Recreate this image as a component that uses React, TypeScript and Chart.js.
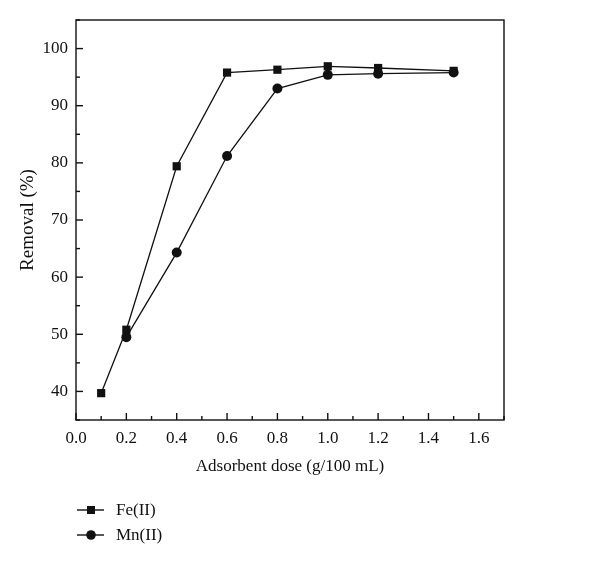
import React, { useEffect, useRef } from 'react';
import { Chart, registerables } from 'chart.js';

Chart.register(...registerables);

const feDose = [0.1, 0.2, 0.4, 0.6, 0.8, 1.0, 1.2, 1.5];
const feRemoval = [39.7, 50.8, 79.4, 95.8, 96.3, 96.9, 96.6, 96.1];
const mnDose = [0.2, 0.4, 0.6, 0.8, 1.0, 1.2, 1.5];
const mnRemoval = [49.5, 64.3, 81.2, 93.0, 95.4, 95.6, 95.8];
const seriesLabels = ['Fe(II)', 'Mn(II)'];
const seriesMarkers = ['rect', 'circle'];
const xTitle = 'Adsorbent dose (g/100 mL)';
const yTitle = 'Removal (%)';

const FONT = "'Liberation Serif', 'Times New Roman', serif";
const INK = '#111111';

function drawMarker(ctx: CanvasRenderingContext2D, style: string, x: number, y: number) {
  ctx.beginPath();
  if (style === 'rect') {
    ctx.rect(x - 4, y - 4, 8, 8);
  } else {
    ctx.arc(x, y, 4.8, 0, Math.PI * 2);
  }
  ctx.fillStyle = INK;
  ctx.fill();
}

const framePlugin = {
  id: 'frameTicksLegend',
  afterDraw(chart: any) {
    const ctx: CanvasRenderingContext2D = chart.ctx;
    const { left, right, top, bottom } = chart.chartArea;
    ctx.save();
    ctx.strokeStyle = INK;
    ctx.lineWidth = 1.4;
    ctx.strokeRect(left, top, right - left, bottom - top);

    const xs = chart.scales.x;
    xs.ticks.forEach((t: any) => {
      const px = xs.getPixelForValue(t.value);
      const major = Math.round(t.value * 10) % 2 === 0;
      const len = major ? 7 : 4;
      ctx.beginPath();
      ctx.moveTo(px, bottom);
      ctx.lineTo(px, bottom - len);
      ctx.stroke();
    });
    const ys = chart.scales.y;
    ys.ticks.forEach((t: any) => {
      const py = ys.getPixelForValue(t.value);
      const major = Math.round(t.value) % 10 === 0;
      const len = major ? 7 : 4;
      ctx.beginPath();
      ctx.moveTo(left, py);
      ctx.lineTo(left + len, py);
      ctx.stroke();
    });

    ctx.font = `17px ${FONT}`;
    ctx.textBaseline = 'middle';
    ctx.textAlign = 'left';
    chart.data.datasets.forEach((ds: any, i: number) => {
      const y = bottom + 90 + i * 25;
      const x0 = left + 1;
      ctx.beginPath();
      ctx.lineWidth = 1.4;
      ctx.moveTo(x0, y);
      ctx.lineTo(x0 + 27, y);
      ctx.stroke();
      drawMarker(ctx, seriesMarkers[i], x0 + 14, y);
      ctx.fillStyle = INK;
      ctx.fillText(ds.label, x0 + 39, y + 1);
    });
    ctx.restore();
  },
};

export default function App() {
  const ref = useRef<HTMLCanvasElement | null>(null);

  useEffect(() => {
    if (!ref.current) return;
    Chart.defaults.font.family = FONT;
    Chart.defaults.color = INK;
    const chart = new Chart(ref.current, {
      type: 'line',
      data: {
        datasets: [
          {
            label: seriesLabels[0],
            data: feDose.map((x, i) => ({ x, y: feRemoval[i] })),
            borderColor: INK,
            backgroundColor: INK,
            borderWidth: 1.3,
            pointStyle: 'rect',
            pointRadius: 5.8,
            pointBorderWidth: 0,
            tension: 0,
          },
          {
            label: seriesLabels[1],
            data: mnDose.map((x, i) => ({ x, y: mnRemoval[i] })),
            borderColor: INK,
            backgroundColor: INK,
            borderWidth: 1.3,
            pointStyle: 'circle',
            pointRadius: 5,
            pointBorderWidth: 0,
            tension: 0,
          },
        ],
      },
      options: {
        animation: false,
        responsive: false,
        maintainAspectRatio: false,
        layout: { padding: { top: 20, right: 96, left: 0, bottom: 87 } },
        plugins: {
          legend: { display: false },
          tooltip: { enabled: false },
        },
        scales: {
          x: {
            type: 'linear',
            min: 0,
            max: 1.7,
            grid: { display: false, drawTicks: false, drawOnChartArea: false },
            border: { display: false },
            ticks: {
              stepSize: 0.1,
              padding: 8,
              maxRotation: 0,
              autoSkip: false,
              font: { size: 17, family: FONT },
              callback: (v: any) => {
                const n = Math.round(Number(v) * 10);
                return n % 2 === 0 && n <= 16 ? (n / 10).toFixed(1) : '';
              },
            },
            title: {
              display: true,
              text: xTitle,
              font: { size: 17, family: FONT },
              padding: { top: 0, bottom: 3 },
            },
            afterFit: (s: any) => {
              s.height = 60;
            },
          },
          y: {
            min: 35,
            max: 105,
            grid: { display: false, drawTicks: false, drawOnChartArea: false },
            border: { display: false },
            ticks: {
              stepSize: 5,
              padding: 8,
              autoSkip: false,
              font: { size: 17, family: FONT },
              callback: (v: any) => {
                const n = Math.round(Number(v));
                return n % 10 === 0 && n >= 40 && n <= 100 ? String(n) : '';
              },
            },
            title: {
              display: true,
              text: yTitle,
              font: { size: 19, family: FONT },
              padding: { top: 17, bottom: 0 },
            },
            afterFit: (s: any) => {
              s.width = 76;
            },
          },
        },
      },
      plugins: [framePlugin],
    });
    return () => chart.destroy();
  }, []);

  return (
    <div style={{ position: 'fixed', left: 0, top: 0, width: 600, height: 567, background: '#fff' }}>
      <canvas ref={ref} width={600} height={567} />
    </div>
  );
}
